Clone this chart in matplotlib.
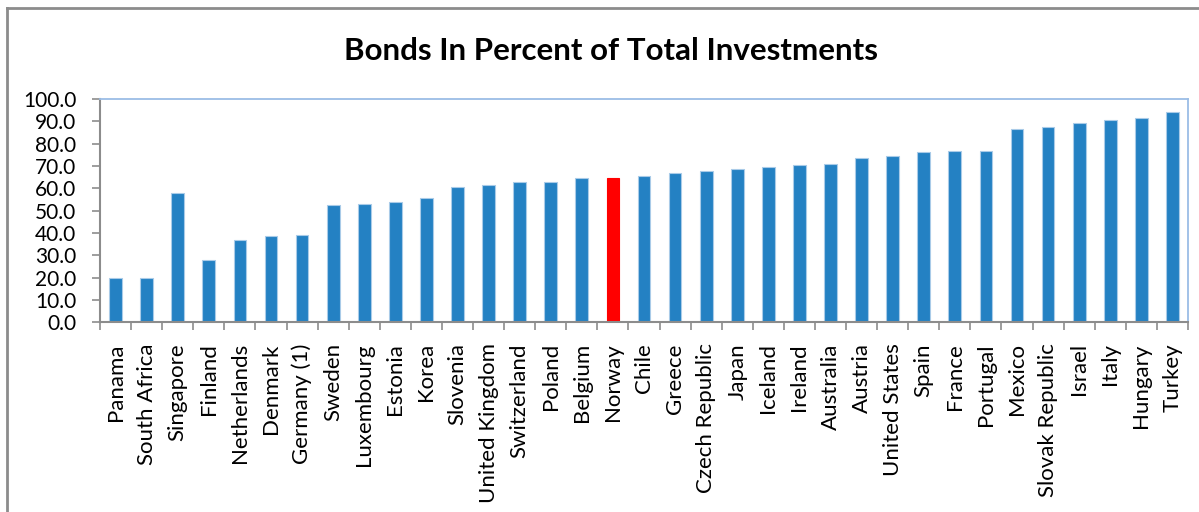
import numpy as np
import matplotlib
matplotlib.use("Agg")
import matplotlib.pyplot as plt
from matplotlib.lines import Line2D

countries = ["Panama", "South Africa", "Singapore", "Finland", "Netherlands", "Denmark",
             "Germany (1)", "Sweden", "Luxembourg", "Estonia", "Korea", "Slovenia",
             "United Kingdom", "Switzerland", "Poland", "Belgium", "Norway", "Chile",
             "Greece", "Czech Republic", "Japan", "Iceland", "Ireland", "Australia",
             "Austria", "United States", "Spain", "France", "Portugal", "Mexico",
             "Slovak Republic", "Israel", "Italy", "Hungary", "Turkey"]
bond_share = [19.7, 19.7, 57.9, 27.8, 36.7, 38.5,
              39.2, 52.4, 53.1, 53.9, 55.5, 60.5,
              61.3, 63.0, 63.0, 64.5, 64.6, 65.4,
              67.0, 67.9, 68.7, 69.5, 70.3, 71.0,
              73.6, 74.3, 76.1, 76.7, 76.7, 86.6,
              87.3, 89.1, 90.7, 91.5, 94.0]
highlight = "Norway"
yticks = np.arange(0, 101, 10)

plt.rcParams['font.family'] = ['Lato', 'DejaVu Sans']

fig = plt.figure(figsize=(11.99, 5.12), dpi=100)
ax = fig.add_axes([100 / 1199, 1 - 322.3 / 512, 1088 / 1199, 223.3 / 512])

# outer chart frame (only top and left edges are visible)
fig.add_artist(Line2D([7 / 1199, 1.0], [1 - 8 / 512] * 2, transform=fig.transFigure,
                      color="#8c8c8c", lw=2))
fig.add_artist(Line2D([7 / 1199] * 2, [0.0, 1 - 8 / 512], transform=fig.transFigure,
                      color="#8c8c8c", lw=2))

x = np.arange(len(countries))
colors = ["#ff0000" if c == highlight else "#2481c3" for c in countries]
edges = ["#ff0000" if c == highlight else "#a9cbe8" for c in countries]
ax.bar(x, bond_share, width=0.41, color=colors, edgecolor=edges, linewidth=0.8, zorder=2)

ax.set_xlim(-0.5, len(countries) - 0.5)
ax.set_ylim(0, 100)
ax.set_yticks(yticks)
ax.set_yticklabels([f"{v:.1f}" for v in yticks], fontsize=15)
ax.set_xticks(x)
ax.set_xticklabels(countries, rotation=90, fontsize=16)
ax.tick_params(axis="x", length=0, pad=15)
ax.set_xticks(np.arange(-0.5, len(countries)), minor=True)
ax.tick_params(axis="x", which="minor", length=6, width=1.2, color="#8c8c8c")
ax.tick_params(axis="y", length=6, width=1.2, color="#8c8c8c", pad=11)

for side in ["left", "bottom"]:
    ax.spines[side].set_color("#8c8c8c")
    ax.spines[side].set_linewidth(1.5)
for side in ["top", "right"]:
    ax.spines[side].set_color("#9bbde6")
    ax.spines[side].set_linewidth(1.3)

fig.text(611 / 1199, 1 - 51 / 512, "Bonds In Percent of Total Investments",
         ha="center", va="center", fontsize=22.5, fontweight="bold")

fig.savefig("out.png", dpi=100)
